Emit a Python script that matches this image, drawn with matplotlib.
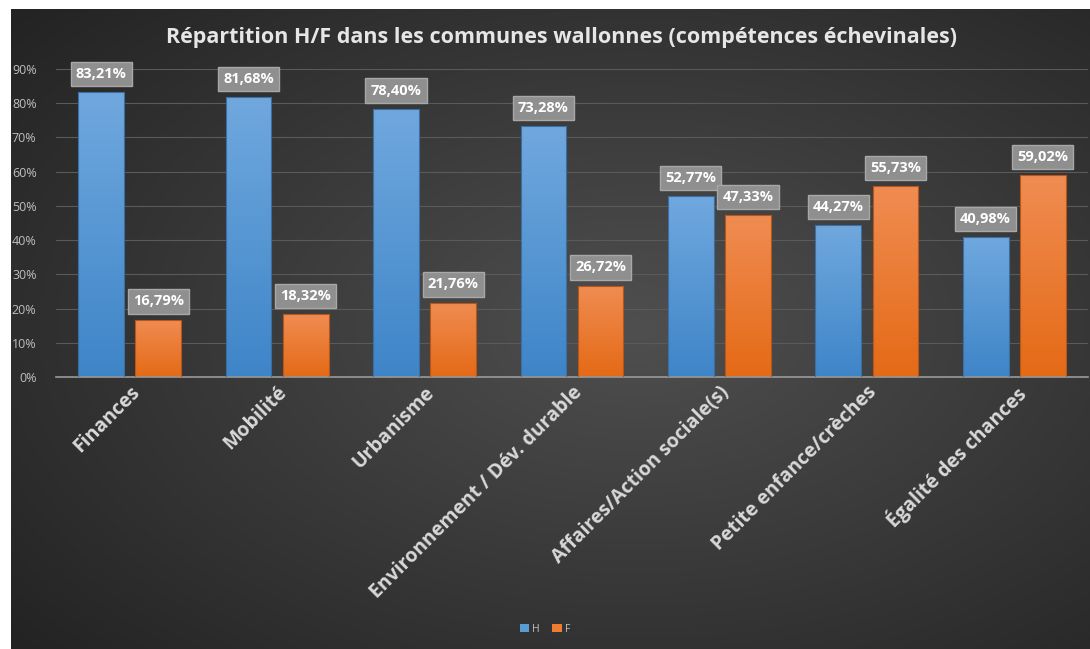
import numpy as np
import matplotlib.pyplot as plt
from matplotlib.ticker import PercentFormatter

plt.rcParams['font.family'] = ['Open Sans', 'DejaVu Sans']

# données
categories = ['Finances', 'Mobilité', 'Urbanisme', 'Environnement / Dév. durable',
              'Affaires/Action sociale(s)', 'Petite enfance/crèches', 'Égalité des chances']
hommes = [83.21, 81.68, 78.40, 73.28, 52.77, 44.27, 40.98]
femmes = [16.79, 18.32, 21.76, 26.72, 47.33, 55.73, 59.02]
labels_h = ['83,21%', '81,68%', '78,40%', '73,28%', '52,77%', '44,27%', '40,98%']
labels_f = ['16,79%', '18,32%', '21,76%', '26,72%', '47,33%', '55,73%', '59,02%']

W, H = 1090, 649
fig = plt.figure(figsize=(W / 100, H / 100), dpi=100)
fig.patch.set_facecolor('white')

# fond sombre avec dégradé radial
bg = fig.add_axes([11 / W, 0, 1 - 11 / W, 1 - 9 / H])
yy, xx = np.mgrid[0:1:300j, 0:1:500j]
r = np.sqrt(((xx - 0.58) / 0.75) ** 2 + ((yy - 0.5) / 0.75) ** 2)
shade = np.clip(0.31 - 0.17 * r, 0.13, 0.31)
bg.imshow(np.dstack([shade] * 3), aspect='auto', extent=[0, 1, 0, 1], origin='lower')
bg.axis('off')

ax = fig.add_axes([56 / W, 1 - 377 / H, (1088 - 56) / W, (377 - 69) / H])
ax.patch.set_alpha(0)

x = np.arange(len(categories))
bw = 0.31
off = 0.194


def gradient_bars(xpos, vals, top, bottom, edge):
    bars = ax.bar(xpos, vals, bw, color='none', edgecolor=edge, linewidth=0.8, zorder=3)
    grad = np.linspace(0, 1, 100).reshape(-1, 1)
    top = np.array(top) / 255
    bottom = np.array(bottom) / 255
    img = bottom + (top - bottom) * grad[..., None]
    for b in bars:
        x0, y0 = b.get_x(), b.get_y()
        im = ax.imshow(img, aspect='auto', origin='lower', zorder=2,
                       extent=[x0, x0 + b.get_width(), y0, y0 + b.get_height()])
        im.set_clip_path(b)
    return bars


bars_h = gradient_bars(x - off, hommes, (112, 168, 222), (62, 133, 200), '#3b6fa3')
bars_f = gradient_bars(x + off, femmes, (240, 140, 82), (228, 106, 22), '#b8561a')

ax.set_xlim(-0.5, len(categories) - 0.5)
ax.set_ylim(0, 90)
ax.set_yticks(np.arange(0, 91, 10))
ax.yaxis.set_major_formatter(PercentFormatter(decimals=0))
ax.tick_params(axis='y', colors='#bfbfbf', labelsize=9, length=0, pad=14)
ax.grid(axis='y', color='#5a5a5a', linewidth=0.8, zorder=0)
ax.set_axisbelow(True)
for s in ['top', 'right', 'left']:
    ax.spines[s].set_visible(False)
ax.spines['bottom'].set_color('#9a9a9a')
ax.spines['bottom'].set_linewidth(1.2)

ax.set_xticks(x)
ax.set_xticklabels(categories, rotation=45, ha='right', rotation_mode='anchor',
                   fontsize=14, fontweight='bold', color='#d9d9d9')
ax.tick_params(axis='x', length=0, pad=4)

for bars, labs in [(bars_h, labels_h), (bars_f, labels_f)]:
    for b, lab in zip(bars, labs):
        ax.annotate(lab, (b.get_x() + b.get_width() / 2, b.get_height()),
                    xytext=(0, 8), textcoords='offset points', ha='center', va='bottom',
                    fontsize=10.5, fontweight='bold', color='white', zorder=5,
                    bbox=dict(boxstyle='square,pad=0.35', fc='#8f8f8f', ec='#a8a8a8', lw=1))

fig.text(0.515, 1 - 37 / H, 'Répartition H/F dans les communes wallonnes (compétences échevinales)',
         ha='center', va='center', fontsize=15.5, fontweight='bold', color='#e6e6e6')

leg = ax.legend([plt.Rectangle((0, 0), 1, 1, fc='#5b9bd5'), plt.Rectangle((0, 0), 1, 1, fc='#ed7d31')],
                ['H', 'F'], loc='center', bbox_to_anchor=(0.5, 1 - 629 / H), bbox_transform=fig.transFigure,
                ncol=2, frameon=False, fontsize=7.5, labelcolor='#bfbfbf',
                handlelength=0.9, handleheight=0.9, handletextpad=0.3, columnspacing=1.2)

fig.savefig('out.png', dpi=100, facecolor=fig.get_facecolor())
